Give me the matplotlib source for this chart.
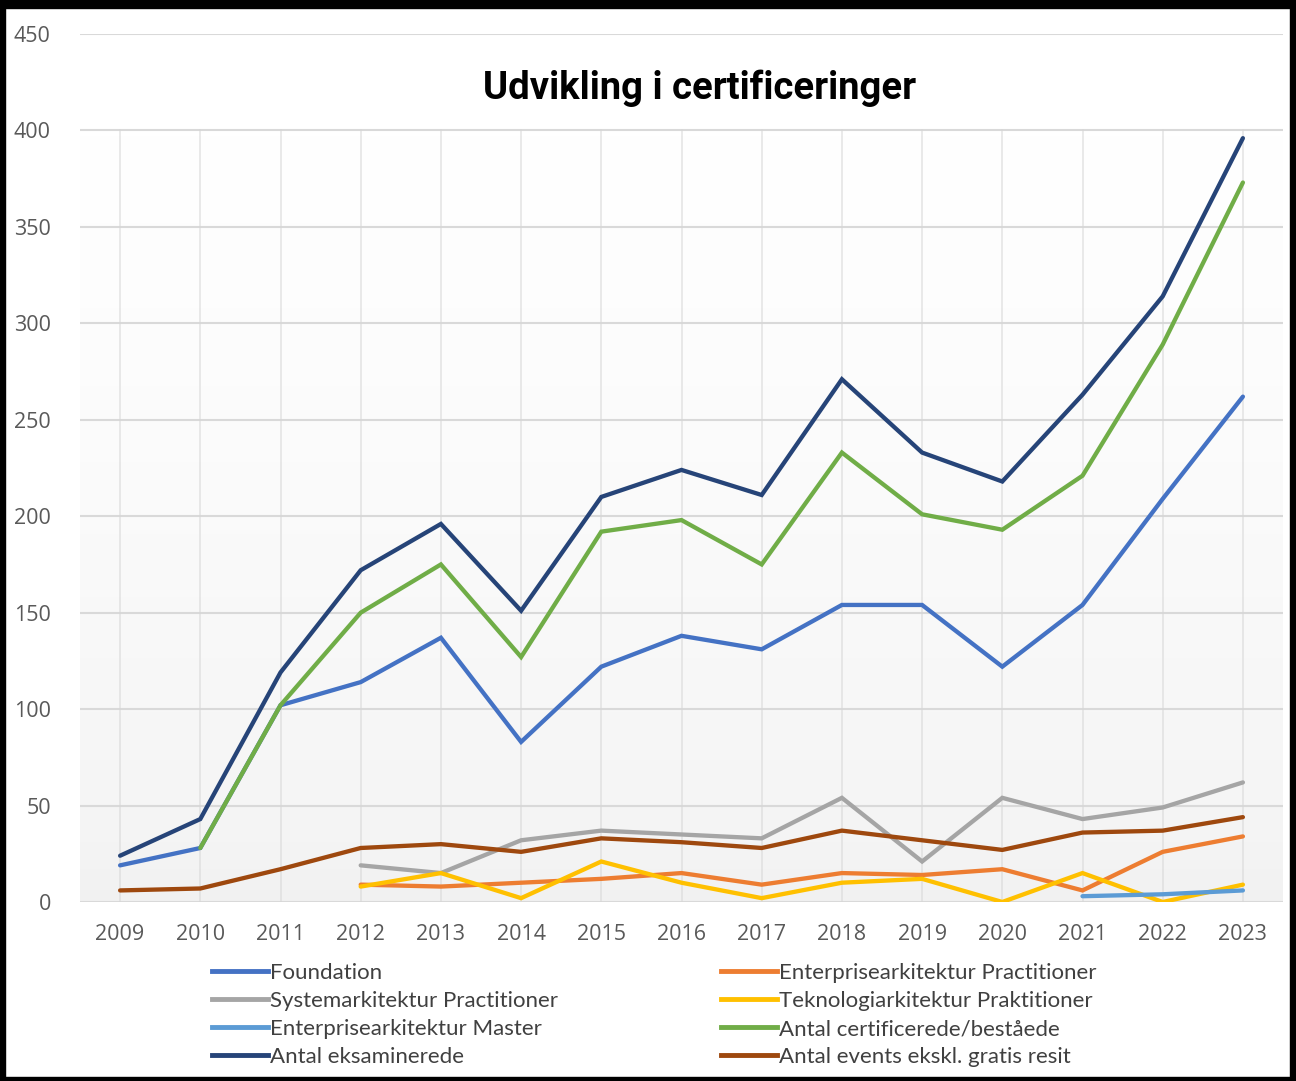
import numpy as np
import matplotlib
matplotlib.use('Agg')
import matplotlib.pyplot as plt
from matplotlib.lines import Line2D
from matplotlib.patches import Rectangle

nan = np.nan

years = list(range(2009, 2024))

# values
foundation = [19, 28, 102, 114, 137, 83, 122, 138, 131, 154, 154, 122, 154, 209, 262]
ea_practitioner = [nan, nan, nan, 9, 8, 10, 12, 15, 9, 15, 14, 17, 6, 26, 34]
system_practitioner = [nan, nan, nan, 19, 15, 32, 37, 35, 33, 54, 21, 54, 43, 49, 62]
tech_practitioner = [nan, nan, nan, 8, 15, 2, 21, 10, 2, 10, 12, 0, 15, 0, 9]
ea_master = [nan, nan, nan, nan, nan, nan, nan, nan, nan, nan, nan, nan, 3, 4, 6]
certified = [nan, 28, 102, 150, 175, 127, 192, 198, 175, 233, 201, 193, 221, 289, 373]
examined = [24, 43, 119, 172, 196, 151, 210, 224, 211, 271, 233, 218, 263, 314, 396]
events = [6, 7, 17, 28, 30, 26, 33, 31, 28, 37, 32, 27, 36, 37, 44]

series = [
    ("Foundation", foundation, "#4472C4"),
    ("Enterprisearkitektur Practitioner", ea_practitioner, "#ED7D31"),
    ("Systemarkitektur Practitioner", system_practitioner, "#A5A5A5"),
    ("Teknologiarkitektur Praktitioner", tech_practitioner, "#FFC000"),
    ("Enterprisearkitektur Master", ea_master, "#5B9BD5"),
    ("Antal certificerede/beståede", certified, "#70AD47"),
    ("Antal eksaminerede", examined, "#264478"),
    ("Antal events ekskl. gratis resit", events, "#9E480E"),
]

fig = plt.figure(figsize=(12.96, 10.81), dpi=100)
ax = fig.add_axes([80 / 1296, 179 / 1081, 1203 / 1296, 868 / 1081])

# gradient background in the inner plot area
grad = np.linspace(0, 1, 256) ** 0.6
grad = grad[:, None]
ax.imshow(grad, extent=(2008.5, 2023.5, 0, 400), aspect='auto',
          cmap=matplotlib.colors.LinearSegmentedColormap.from_list('bg', ['#f1f1f1', '#ffffff']),
          origin='lower', zorder=0)

for v in range(0, 451, 50):
    ax.axhline(v, color='#d9d9d9', lw=1.5, zorder=1)
for y in years:
    ax.plot([y, y], [0, 400], color='#d6d6d6', lw=1.2, alpha=0.6, zorder=1)

handles = {}
for name, vals, col in series:
    ln, = ax.plot(years, vals, color=col, lw=3.1, solid_capstyle='round',
                  solid_joinstyle='miter', zorder=3, label=name)
    handles[name] = ln

ax.set_xlim(2008.5, 2023.5)
ax.set_ylim(0, 450)
ax.set_xticks(years)
ax.set_xticklabels([str(y) for y in years])
ax.set_yticks(range(0, 451, 50))
for s in ax.spines.values():
    s.set_visible(False)
ax.tick_params(length=0, labelsize=15.5, colors='#595959', pad=16)
ax.tick_params(axis='y', pad=21)
for lab in ax.get_xticklabels() + ax.get_yticklabels():
    lab.set_family('Open Sans')

fig.text(700 / 1296, 1 - 88 / 1081, "Udvikling i certificeringer", ha='center', va='center',
         fontsize=27.5, fontweight='bold', family='Roboto', color='black')

col1 = ["Foundation", "Systemarkitektur Practitioner", "Enterprisearkitektur Master", "Antal eksaminerede"]
col2 = ["Enterprisearkitektur Practitioner", "Teknologiarkitektur Praktitioner",
        "Antal certificerede/beståede", "Antal events ekskl. gratis resit"]
for names, x0 in [(col1, 212), (col2, 721)]:
    hs = [Line2D([], [], color=handles[n].get_color(), lw=3.5) for n in names]
    fig.legend(hs, names, loc='upper left', bbox_to_anchor=(x0 / 1296, 1 - 963 / 1081),
               frameon=False, handlelength=2.5, handletextpad=0.1, labelspacing=0.36,
               borderaxespad=0, borderpad=0,
               prop={'family': 'Lato', 'size': 16}, labelcolor='#404040')

# black frame around the figure
for (x, y, w, h) in [(0, 0, 1, 4 / 1081), (0, 1 - 8 / 1081, 1, 8 / 1081),
                     (0, 0, 5 / 1296, 1), (1 - 6 / 1296, 0, 6 / 1296, 1)]:
    fig.patches.append(Rectangle((x, y), w, h, transform=fig.transFigure,
                                 color='black', zorder=10))

fig.savefig('out.png', dpi=100)
